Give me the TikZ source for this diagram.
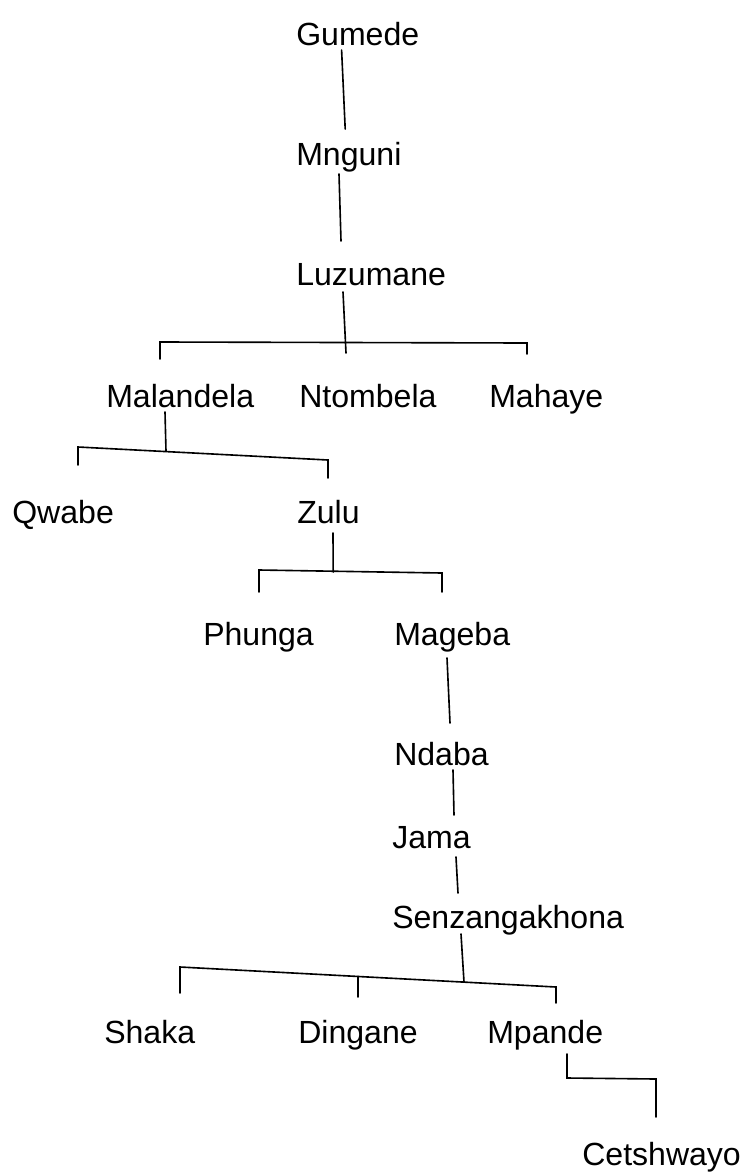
\documentclass[tikz,border=0pt]{standalone}
\usepackage{fontspec}
\setmainfont{Liberation Sans}
\usetikzlibrary{
    positioning,
    calc
}
\tikzset{
    % --- Name of one member of the line ---
    person/.style = {
        inner sep=0pt, anchor=base west,
        font=\fontsize{22.8pt}{27pt}\selectfont
    },
    % --- Descent line ---
    link/.style = {
        draw, line width=1.15pt, line cap=round, line join=miter
    }
}

\begin{document}
\begin{tikzpicture}

\useasboundingbox (0,0) rectangle (18.7,-29.35);

% ---------------------------------------------------------
% Names
% ---------------------------------------------------------
\node[person] (Gumede)   at (7.40, -1.125) {Gumede};
\node[person] (Mnguni)   at (7.40, -4.125) {Mnguni};
\node[person] (Luzumane) at (7.40, -7.125) {Luzumane};

\node[person] (Malandela) at (2.65, -10.175) {Malandela};
\node[person] (Ntombela)  at (7.475, -10.175) {Ntombela};
\node[person] (Mahaye)    at (12.225, -10.175) {Mahaye};

\node[person] (Qwabe) at (0.30, -13.075) {Qwabe};
\node[person] (Zulu)  at (7.425, -13.075) {Zulu};

\node[person] (Phunga) at (5.075, -16.125) {Phunga};
\node[person] (Mageba) at (9.85, -16.125) {Mageba};

\node[person] (Ndaba)         at (9.85, -19.125) {Ndaba};
\node[person] (Jama)          at (9.80, -21.2) {Jama};
\node[person] (Senzangakhona) at (9.80, -23.2) {Senzangakhona};

\node[person] (Shaka)   at (2.60, -26.075) {Shaka};
\node[person] (Dingane) at (7.45, -26.075) {Dingane};
\node[person] (Mpande)  at (12.175, -26.075) {Mpande};

\node[person] (Cetshwayo) at (14.55, -29.125) {Cetshwayo};

% ---------------------------------------------------------
% Junction points
% ---------------------------------------------------------
\coordinate (GumedeOut)   at (8.54, -1.25);
\coordinate (MnguniIn)    at (8.63, -3.225);
\coordinate (MnguniOut)   at (8.475, -4.35);
\coordinate (LuzumaneIn)  at (8.525, -6.025);
\coordinate (LuzumaneOut) at (8.575, -7.3);
\coordinate (LuzumaneBar) at (8.65, -8.825);

\coordinate (MalandelaIn)  at (4.0, -8.975);
\coordinate (MalandelaTop) at (4.0, -8.55);
\coordinate (MahayeTop)    at (13.175, -8.575);
\coordinate (MahayeIn)     at (13.175, -8.85);

\coordinate (MalandelaOut) at (4.125, -10.3);
\coordinate (MalandelaBar) at (4.15, -11.28);
\coordinate (QwabeIn)      at (1.95, -11.625);
\coordinate (QwabeTop)     at (1.95, -11.175);
\coordinate (ZuluTop)      at (8.2, -11.5);
\coordinate (ZuluIn)       at (8.2, -11.95);

\coordinate (ZuluOut)   at (8.325, -13.325);
\coordinate (ZuluBar)   at (8.33, -14.3);
\coordinate (PhungaIn)  at (6.475, -14.8);
\coordinate (PhungaTop) at (6.475, -14.25);
\coordinate (MagebaTop) at (11.05, -14.325);
\coordinate (MagebaIn)  at (11.05, -14.8);

\coordinate (MagebaOut) at (11.175, -16.45);
\coordinate (NdabaIn)   at (11.25, -18.075);
\coordinate (NdabaOut)  at (11.325, -19.25);
\coordinate (JamaIn)    at (11.35, -20.375);
\coordinate (JamaOut)   at (11.40, -21.425);
\coordinate (SenzIn)    at (11.45, -22.325);

\coordinate (SenzOut)    at (11.525, -23.35);
\coordinate (SenzBar)    at (11.6, -24.55);
\coordinate (ShakaIn)    at (4.5, -24.825);
\coordinate (ShakaTop)   at (4.5, -24.175);
\coordinate (DinganeTop) at (8.95, -24.41);
\coordinate (DinganeIn)  at (8.95, -24.925);
\coordinate (MpandeTop)  at (13.9, -24.675);
\coordinate (MpandeIn)   at (13.9, -25.075);

\coordinate (MpandeOut)    at (14.175, -26.35);
\coordinate (MpandeBend)   at (14.175, -26.95);
\coordinate (CetshwayoTop) at (16.4, -26.975);
\coordinate (CetshwayoIn)  at (16.4, -27.925);

% ---------------------------------------------------------
% Descent lines
% ---------------------------------------------------------
\draw[link] (GumedeOut) -- (MnguniIn);
\draw[link] (MnguniOut) -- (LuzumaneIn);

\draw[link] (LuzumaneOut) -- (LuzumaneBar);
\draw[link] (MalandelaIn) -- (MalandelaTop) -- (MahayeTop) -- (MahayeIn);

\draw[link] (MalandelaOut) -- (MalandelaBar);
\draw[link] (QwabeIn) -- (QwabeTop) -- (ZuluTop) -- (ZuluIn);

\draw[link] (ZuluOut) -- (ZuluBar);
\draw[link] (PhungaIn) -- (PhungaTop) -- (MagebaTop) -- (MagebaIn);

\draw[link] (MagebaOut) -- (NdabaIn);
\draw[link] (NdabaOut) -- (JamaIn);
\draw[link] (JamaOut) -- (SenzIn);

\draw[link] (SenzOut) -- (SenzBar);
\draw[link] (ShakaIn) -- (ShakaTop) -- (MpandeTop) -- (MpandeIn);
\draw[link] (DinganeTop) -- (DinganeIn);

\draw[link] (MpandeOut) -- (MpandeBend) -- (CetshwayoTop) -- (CetshwayoIn);

\end{tikzpicture}
\end{document}
